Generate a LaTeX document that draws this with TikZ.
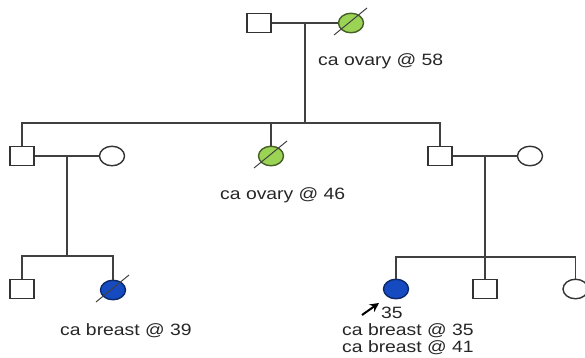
\documentclass[tikz,border=0pt]{standalone}
\usepackage{fontspec}
\newfontfamily\pedfont{Liberation Sans}[FakeStretch=1.18]
\usepackage{tikz}
\usetikzlibrary{shapes.geometric,positioning,calc,arrows.meta}
\definecolor{ovarygreen}{RGB}{155,212,85}
\definecolor{breastblue}{RGB}{22,74,192}
\newcommand{\deceased}[1]{\draw[line, line width=1pt] (#1.center) ++(-17,12) -- ++(33,-27);}

\begin{document}
\begin{tikzpicture}[x=1pt, y=-1pt,
  male/.style = {draw = black!80, line width = 1.4pt, shape = rectangle, minimum width = 24pt, minimum height = 19pt, inner sep = 0pt},
  female/.style = {draw = black!80, line width = 1.4pt, shape = ellipse, minimum width = 25pt, minimum height = 19.5pt, inner sep = 0pt},
  ovary/.style = {female, fill = ovarygreen, draw = ovarygreen!45!black},
  breast/.style = {female, fill = breastblue, draw = breastblue!55!black},
  line/.style = {draw = black!75, line width = 1.4pt},
  dx/.style = {font = \pedfont\fontsize{16.4}{19}\selectfont, inner sep = 0pt, anchor = base west, text = black!85}
]
\useasboundingbox (0,0) rectangle (585,357);

% generation I
\node[male] (gf) at (259,23) {};
\node[ovary] (gm) at (351,23) {};
\node[dx] (l58) at (318,65) {ca ovary @ 58};

% generation II
\node[male] (u1) at (22,156) {};
\node[female] (w1) at (112,156) {};
\node[ovary] (a2) at (271,156) {};
\node[male] (u2) at (440,156) {};
\node[female] (w2) at (530,156) {};
\node[dx] (l46) at (220,199) {ca ovary @ 46};

% generation III
\node[male] (c1) at (22,289) {};
\node[breast] (c2) at (113,290) {};
\node[breast] (p) at (396,289) {};
\node[male] (c3) at (485,289) {};
\node[female] (c4) at (575.5,289) {};
\node[dx] (l39) at (60,335) {ca breast @ 39};
\node[dx] (l35) at (381,318) {35};
\node[dx] (b35) at (342,335) {ca breast @ 35};
\node[dx] (b41) at (342,352.5) {ca breast @ 41};

% couples and sibships
\draw[line] (gf) -- (gm);
\coordinate (d1) at ($(gf)!0.5!(gm)$);
\coordinate (s1) at (d1 |- 0,123);
\draw[line] (d1) -- (s1);
\draw[line] (u1.north) |- (s1) -| (u2.north);
\draw[line] (a2.north) -- (a2.north |- s1);

\draw[line] (u1) -- (w1);
\coordinate (d2) at ($(u1)!0.5!(w1)$);
\coordinate (s2) at (d2 |- 0,256);
\draw[line] (d2) -- (s2);
\draw[line] (c1.north) |- (s2) -| (c2.north);

\draw[line] (u2) -- (w2);
\coordinate (d3) at ($(u2)!0.5!(w2)$);
\coordinate (s3) at (d3 |- 0,257);
\draw[line] (d3) -- (c3.north);
\draw[line] (p.north) |- (s3) -| (c4.north);

% deceased
\deceased{gm}
\deceased{a2}
\deceased{c2}

% proband
\coordinate (ar1) at (362,315);
\coordinate (ar2) at (379,303);
\draw[line width = 2pt, black, -{Stealth[length = 9pt, width = 9pt]}] (ar1) -- (ar2);
\end{tikzpicture}
\end{document}
